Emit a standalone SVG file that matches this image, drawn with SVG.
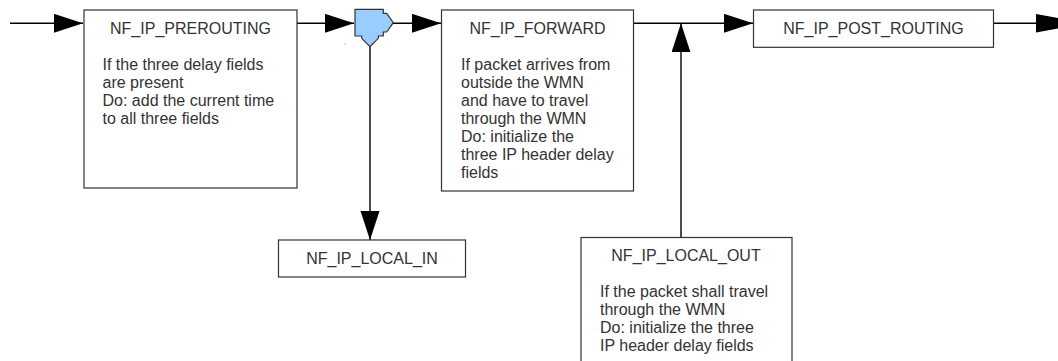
<svg xmlns="http://www.w3.org/2000/svg" width="1058" height="361" viewBox="0 0 1058 361">
  <style>
    .box { fill: #ffffff; stroke: #333333; stroke-width: 1.2; }
    .wire { fill: none; stroke: #000000; stroke-width: 1.4; }
    .title { font-family: "Liberation Sans", Arial, sans-serif; font-size: 16px; fill: #333333; text-anchor: middle; }
    .body { font-family: "Liberation Sans", Arial, sans-serif; font-size: 16px; fill: #333333; }
    .head { fill: #000000; }
  </style>
  <defs>
    <marker id="arrow" markerUnits="userSpaceOnUse" markerWidth="30" markerHeight="20" refX="29" refY="9.5" orient="auto">
      <path class="head" d="M0,0 L29,9.5 L0,19 z"/>
    </marker>
  </defs>
  <rect width="1058" height="361" fill="#ffffff"/>

  <!-- connectors -->
  <g id="connectors">
    <path class="wire" d="M10,23.3 H83" marker-end="url(#arrow)"/>
    <path class="wire" d="M297,23.3 H354" marker-end="url(#arrow)"/>
    <path class="wire" d="M393,23.3 H441" marker-end="url(#arrow)"/>
    <path class="wire" d="M370,46 V240" marker-end="url(#arrow)"/>
    <path class="wire" d="M633,23.3 H753" marker-end="url(#arrow)"/>
    <path class="wire" d="M681,237 V23.3" marker-end="url(#arrow)"/>
    <path class="wire" d="M993,23.3 H1040"/>
    <path class="head" d="M1036,14 L1086,23.3 L1036,32.6 z"/>
  </g>

  <!-- hook split point -->
  <g id="split">
    <path d="M355,9.3 H383.3 V13.3 H386.7 L393.3,22.7 L386.7,32 H383.3 V36 H378.3 V38.3 L370,46.7 L361.7,38.3 V36 H355 Z" fill="#99ccff" stroke="#333333" stroke-width="1.2" stroke-linejoin="miter"/>
    <rect x="344.5" y="43.5" width="1" height="1" fill="#888888"/>
  </g>

  <g id="prerouting">
    <rect class="box" x="84" y="10" width="213" height="178"/>
    <text class="title" x="190.5" y="34">NF_IP_PREROUTING</text>
    <text class="body" x="102.5" y="69.5">If the three delay fields</text>
    <text class="body" x="102.5" y="87.5">are present</text>
    <text class="body" x="102.5" y="105.5">Do: add the current time</text>
    <text class="body" x="102.5" y="123.5">to all three fields</text>
  </g>

  <g id="forward">
    <rect class="box" x="441.5" y="10" width="192" height="181"/>
    <text class="title" x="537.5" y="34">NF_IP_FORWARD</text>
    <text class="body" x="461" y="69.5">If packet arrives from</text>
    <text class="body" x="461" y="87.5">outside the WMN</text>
    <text class="body" x="461" y="105.5">and have to travel</text>
    <text class="body" x="461" y="123.5">through the WMN</text>
    <text class="body" x="461" y="141.5">Do: initialize the</text>
    <text class="body" x="461" y="159.5">three IP header delay</text>
    <text class="body" x="461" y="177.5">fields</text>
  </g>

  <g id="postrouting">
    <rect class="box" x="753.5" y="10" width="240" height="37.3"/>
    <text class="title" x="873.5" y="34">NF_IP_POST_ROUTING</text>
  </g>

  <g id="localin">
    <rect class="box" x="278.5" y="240" width="187" height="37"/>
    <text class="title" x="372" y="263.5">NF_IP_LOCAL_IN</text>
  </g>

  <g id="localout">
    <rect class="box" x="581" y="237.5" width="211" height="130"/>
    <text class="title" x="686" y="261">NF_IP_LOCAL_OUT</text>
    <text class="body" x="600" y="297">If the packet shall travel</text>
    <text class="body" x="600" y="315">through the WMN</text>
    <text class="body" x="600" y="333">Do: initialize the three</text>
    <text class="body" x="600" y="351">IP header delay fields</text>
  </g>
</svg>
